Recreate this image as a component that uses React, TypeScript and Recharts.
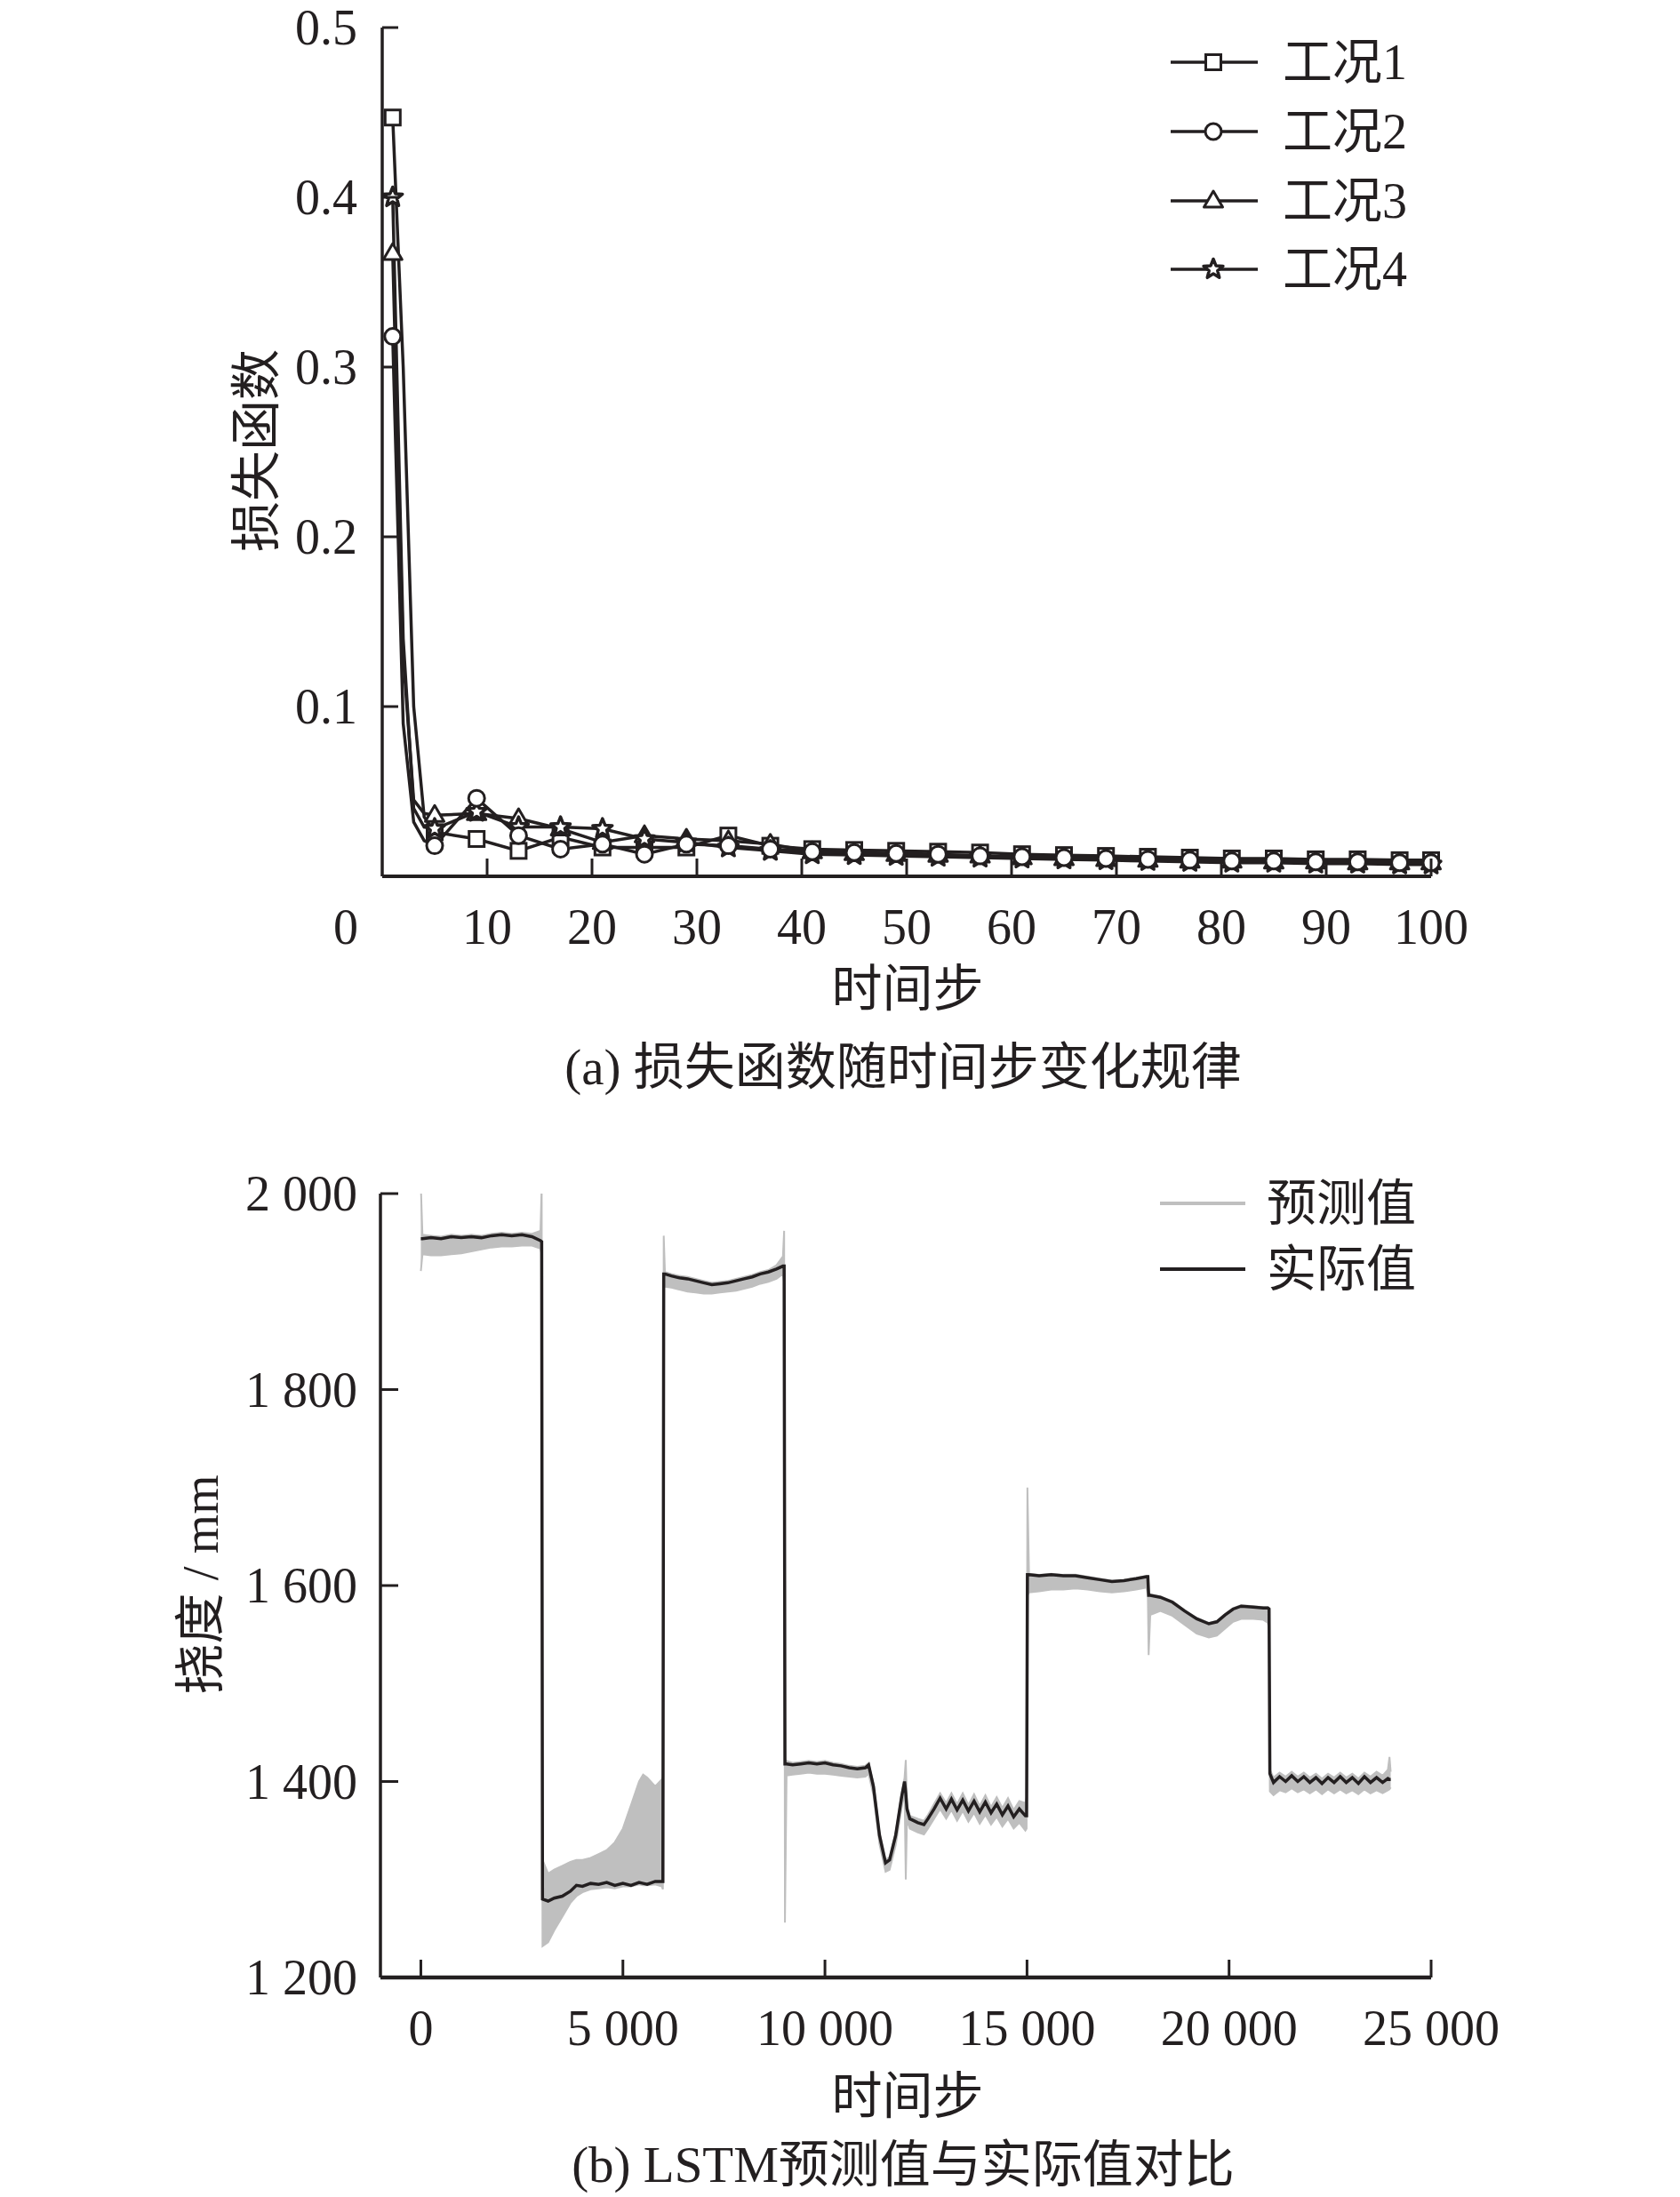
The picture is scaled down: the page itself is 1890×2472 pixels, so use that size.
import React from 'react';
import { LineChart, Line, XAxis, YAxis, ComposedChart, Area } from 'recharts';

const INK = '#231f20';
const GREY = '#bfbfbf';
const SERIF = '"Liberation Serif", "Noto Sans CJK SC", serif';

// ---- (a) loss vs. time step ----
const STEPS_A = [1, 2, 3, 4, 5, 9, 13, 17, 21, 25, 29, 33, 37, 41, 45, 49, 53, 57, 61, 65, 69, 73, 77, 81, 85, 89, 93, 97, 100];
const CASE_1 = [0.447, 0.3, 0.1, 0.035, 0.026, 0.022, 0.015, 0.023, 0.017, 0.017, 0.017, 0.024, 0.018, 0.016, 0.0155, 0.015, 0.0145, 0.014, 0.013, 0.0125, 0.012, 0.0115, 0.011, 0.0105, 0.0105, 0.01, 0.01, 0.0095, 0.0095];
const CASE_2 = [0.318, 0.09, 0.032, 0.021, 0.018, 0.046, 0.024, 0.016, 0.019, 0.013, 0.019, 0.018, 0.016, 0.0145, 0.014, 0.0135, 0.013, 0.012, 0.0115, 0.011, 0.0105, 0.01, 0.0095, 0.009, 0.009, 0.0085, 0.0085, 0.008, 0.008];
const CASE_3 = [0.367, 0.13, 0.045, 0.037, 0.036, 0.037, 0.034, 0.028, 0.02, 0.024, 0.022, 0.021, 0.019, 0.0145, 0.0135, 0.013, 0.0125, 0.012, 0.011, 0.0105, 0.01, 0.0095, 0.009, 0.009, 0.0085, 0.0085, 0.008, 0.008, 0.008];
const CASE_4 = [0.4, 0.14, 0.04, 0.029, 0.028, 0.038, 0.029, 0.029, 0.028, 0.022, 0.02, 0.017, 0.015, 0.013, 0.0125, 0.012, 0.0115, 0.011, 0.0105, 0.01, 0.0095, 0.009, 0.0085, 0.008, 0.008, 0.0075, 0.0075, 0.007, 0.007];
const CASE_NAMES = ['工况1', '工况2', '工况3', '工况4'];
const CASE_MARKERS = ['square', 'circle', 'triangle', 'star'];
const X_TICKS_A = [0, 10, 20, 30, 40, 50, 60, 70, 80, 90, 100];
const Y_TICKS_A = [0.1, 0.2, 0.3, 0.4, 0.5];

// ---- (b) LSTM prediction vs. actual ----
const STEPS_B = [
  0, 40, 250, 500, 750, 1000, 1250, 1500, 1750, 2000, 2250, 2500, 2750, 2960, 2990,
  3010, 3150, 3300, 3500, 3700, 3850, 4000, 4200, 4400, 4600, 4800, 5000, 5200, 5400, 5500, 5600, 5800, 5960, 5990,
  6010, 6040, 6200, 6400, 6600, 6800, 7000, 7200, 7400, 7600, 7800, 8000, 8200, 8400, 8600, 8800, 8960, 8990,
  9010, 9050, 9200, 9400, 9600, 9800, 10000, 10200, 10400, 10600, 10800, 11000, 11080, 11200, 11350, 11500, 11600, 11750, 11900, 11970,
  12000, 12030, 12100, 12300, 12450, 12550, 12700, 12850, 13000, 13130, 13270, 13410, 13550, 13690, 13830, 13970, 14110, 14250, 14390, 14530,
  14670, 14810, 14960, 14990,
  15010, 15050, 15300, 15600, 15900, 16200, 16500, 16800, 17100, 17400, 17700, 17960, 17990,
  18010, 18050, 18300, 18600, 18900, 19200, 19500, 19700, 19900, 20100, 20300, 20600, 20850, 20960, 20990,
  21010, 21100, 21250, 21400, 21550, 21700, 21850, 22000, 22150, 22300, 22450, 22600, 22750, 22900, 23050, 23200, 23350, 23500, 23650, 23800,
  23930, 23970, 24000,
];
const ACTUAL = [
  1954, 1954, 1955, 1954, 1956, 1955, 1956, 1955, 1957, 1958, 1957, 1958, 1956, 1952, 1951,
  1280, 1278, 1281, 1283, 1288, 1294, 1293, 1296, 1295, 1297, 1294, 1296, 1294, 1297, 1296, 1295, 1298, 1298, 1298,
  1918, 1918, 1916, 1914, 1913, 1911, 1909, 1907, 1908, 1909, 1911, 1913, 1915, 1918, 1920, 1923, 1926, 1926,
  1418, 1418, 1417, 1418, 1419, 1418, 1419, 1417, 1416, 1414, 1413, 1414, 1417, 1395, 1345, 1317, 1320, 1345, 1385, 1400,
  1388, 1372, 1362, 1358, 1356, 1362, 1372, 1383, 1372, 1382, 1371, 1381, 1370, 1380, 1369, 1379, 1368, 1377, 1366, 1375,
  1364, 1372, 1365, 1365,
  1611, 1611, 1610, 1611, 1610, 1610, 1608, 1606, 1604, 1605, 1607, 1609, 1609,
  1590, 1590, 1588, 1583, 1574, 1566, 1561, 1563, 1570, 1576, 1579, 1578, 1577, 1577, 1576,
  1408, 1399, 1405, 1400, 1406, 1400, 1405, 1399, 1404, 1398, 1404, 1399, 1405, 1399, 1404, 1398, 1405, 1399, 1404, 1399,
  1403, 1402, 1402,
];
const PRED_LOW = [
  1921, 1938, 1937, 1937, 1938, 1939, 1941, 1943, 1945, 1946, 1946, 1947, 1947, 1944, 1938,
  1232, 1236, 1248, 1262, 1276, 1283, 1287, 1290, 1291, 1292, 1291, 1293, 1293, 1295, 1294, 1294, 1295, 1293, 1290,
  1905, 1905, 1904, 1902, 1900, 1899, 1898, 1898, 1899, 1900, 1901, 1903, 1905, 1908, 1910, 1913, 1918, 1910,
  1256, 1406, 1407, 1408, 1409, 1408, 1408, 1407, 1406, 1405, 1404, 1405, 1408, 1386, 1336, 1308, 1310, 1335, 1374, 1390,
  1300, 1362, 1352, 1348, 1346, 1352, 1362, 1372, 1362, 1371, 1360, 1370, 1359, 1368, 1357, 1366, 1356, 1364, 1354, 1362,
  1352, 1358, 1350, 1352,
  1590, 1593, 1594, 1596, 1596, 1597, 1596, 1594, 1593, 1594, 1596, 1598, 1590,
  1529, 1570, 1574, 1569, 1560, 1551, 1547, 1549, 1556, 1563, 1566, 1566, 1565, 1562, 1555,
  1390, 1386, 1391, 1389, 1393, 1389, 1392, 1388, 1392, 1387, 1392, 1388, 1392, 1388, 1391, 1387, 1392, 1388, 1391, 1388,
  1391, 1392, 1394,
];
const PRED_HIGH = [
  2007, 1958, 1957, 1956, 1958, 1957, 1958, 1957, 1959, 1960, 1959, 1960, 1959, 1962, 2008,
  1320, 1306, 1310, 1314, 1318, 1320, 1320, 1322, 1326, 1330, 1338, 1352, 1376, 1400, 1407, 1404, 1395, 1402, 1405,
  1957, 1920, 1918, 1916, 1915, 1913, 1911, 1909, 1910, 1911, 1913, 1915, 1917, 1920, 1922, 1927, 1936, 1962,
  1420, 1421, 1419, 1420, 1421, 1420, 1421, 1419, 1418, 1416, 1415, 1416, 1419, 1398, 1348, 1320, 1323, 1348, 1388, 1404,
  1422, 1376, 1365, 1362, 1360, 1366, 1377, 1388, 1378, 1388, 1377, 1388, 1376, 1387, 1375, 1386, 1374, 1384, 1373, 1383,
  1371, 1380, 1378, 1384,
  1700, 1612, 1611, 1612, 1611, 1611, 1609, 1607, 1605, 1606, 1608, 1610, 1610,
  1592, 1591, 1589, 1584, 1575, 1567, 1562, 1564, 1571, 1577, 1580, 1579, 1578, 1578, 1577,
  1412, 1404, 1409, 1405, 1410, 1405, 1409, 1404, 1408, 1403, 1408, 1404, 1409, 1404, 1408, 1403, 1409, 1405, 1410, 1406,
  1412, 1425, 1410,
];
const X_TICKS_B = [0, 5000, 10000, 15000, 20000, 25000];
const X_LABELS_B = ['0', '5 000', '10 000', '15 000', '20 000', '25 000'];
const Y_TICKS_B = [1200, 1400, 1600, 1800, 2000];
const Y_LABELS_B = ['1 200', '1 400', '1 600', '1 800', '2 000'];

const lossRows = STEPS_A.map((step, i) => ({ step, c1: CASE_1[i], c2: CASE_2[i], c3: CASE_3[i], c4: CASE_4[i] }));
const deflRows = STEPS_B.map((t, i) => ({ t, actual: ACTUAL[i], band: [PRED_LOW[i], PRED_HIGH[i]] }));

// plot frame (chart-local pixels)
const CHART_H = 1100;
const A_MARGIN = { top: 31, right: 280, bottom: 34, left: 330 };
const B_MARGIN = { top: 93, right: 280, bottom: 45, left: 328 };
const Y_AXIS_W = 100;
const X_AXIS_H = 80;
const A_LEFT = A_MARGIN.left + Y_AXIS_W;
const A_BOTTOM = CHART_H - A_MARGIN.bottom - X_AXIS_H;
const B_LEFT = B_MARGIN.left + Y_AXIS_W;
const B_BOTTOM = CHART_H - B_MARGIN.bottom - X_AXIS_H;

function Marker({ kind, cx, cy }: { kind: string; cx: number; cy: number }) {
  const style = { fill: '#fff', stroke: INK, strokeWidth: 3 };
  if (kind === 'square') return <rect x={cx - 8.5} y={cy - 8.5} width={17} height={17} {...style} />;
  if (kind === 'circle') return <circle cx={cx} cy={cy} r={9} {...style} />;
  if (kind === 'triangle') {
    return <polygon points={`${cx},${cy - 11} ${cx + 10.5},${cy + 7} ${cx - 10.5},${cy + 7}`} {...style} strokeLinejoin="round" />;
  }
  const pts: string[] = [];
  for (let k = 0; k < 10; k++) {
    const r = k % 2 === 0 ? 11.5 : 5;
    const a = -Math.PI / 2 + (k * Math.PI) / 5;
    pts.push(`${cx + r * Math.cos(a)},${cy + r * Math.sin(a)}`);
  }
  return <polygon points={pts.join(' ')} fill="#fff" stroke={INK} strokeWidth={3.5} strokeLinejoin="round" />;
}

const makeDot = (kind: string) => (props: any) => {
  const { cx, cy, payload, index } = props;
  const s = payload.step;
  if (cx == null || !((s - 1) % 4 === 0 || s === 100)) return <g key={`${kind}-${index}`} />;
  return (
    <g key={`${kind}-${index}`}>
      <Marker kind={kind} cx={cx} cy={cy} />
    </g>
  );
};

const textStyle = { fontSize: 56, fill: INK, fontFamily: SERIF };

const XTickA = (props: any) => {
  const { x, payload } = props;
  const v = payload.value;
  const y = A_BOTTOM;
  return (
    <g>
      {v !== 0 && <line x1={x} x2={x} y1={y} y2={y - 20} stroke={INK} strokeWidth={3} />}
      <text x={v === 0 ? x - 41 : x} y={y + 57} textAnchor="middle" dominantBaseline="central" {...textStyle}>
        {v}
      </text>
    </g>
  );
};

const YTickA = (props: any) => {
  const { y, payload } = props;
  const x = A_LEFT;
  return (
    <g>
      <line x1={x} x2={x + 18} y1={y} y2={y} stroke={INK} strokeWidth={3} />
      <text x={x - 28} y={y} textAnchor="end" dominantBaseline="central" {...textStyle}>
        {payload.value.toFixed(1)}
      </text>
    </g>
  );
};

const XTickB = (props: any) => {
  const { x, payload, index } = props;
  const y = B_BOTTOM;
  return (
    <g>
      <line x1={x} x2={x} y1={y} y2={y - 20} stroke={INK} strokeWidth={3} />
      <text x={x} y={y + 57} textAnchor="middle" dominantBaseline="central" {...textStyle}>
        {X_LABELS_B[index] ?? payload.value}
      </text>
    </g>
  );
};

const YTickB = (props: any) => {
  const { y, payload, index } = props;
  const x = B_LEFT;
  return (
    <g>
      {payload.value !== 1200 && <line x1={x} x2={x + 20} y1={y} y2={y} stroke={INK} strokeWidth={3} />}
      <text x={x - 26} y={y} textAnchor="end" dominantBaseline="central" {...textStyle}>
        {Y_LABELS_B[index] ?? payload.value}
      </text>
    </g>
  );
};

function Title({ x, y, text, rotate = false }: { x: number; y: number; text: string; rotate?: boolean }) {
  return (
    <div
      style={{
        position: 'absolute',
        left: x,
        top: y,
        transform: `translate(-50%, -50%)${rotate ? ' rotate(-90deg)' : ''}`,
        whiteSpace: 'nowrap',
        fontSize: 57,
        lineHeight: 1,
        color: INK,
        fontFamily: SERIF,
      }}
    >
      {text}
    </div>
  );
}

const LEGEND_A_Y = [70, 148, 226, 303];

export default function App() {
  return (
    <div style={{ position: 'absolute', left: 0, top: 0, width: 1890, height: 2472, background: '#fff', fontFamily: SERIF }}>
      <div style={{ position: 'absolute', left: 0, top: 0 }}>
        <LineChart width={1890} height={CHART_H} data={lossRows} margin={A_MARGIN}>
          <XAxis
            dataKey="step"
            type="number"
            domain={[0, 100]}
            ticks={X_TICKS_A}
            height={X_AXIS_H}
            tickSize={0}
            tickMargin={0}
            tickLine={false}
            axisLine={{ stroke: INK, strokeWidth: 4 }}
            tick={XTickA}
            interval={0}
          />
          <YAxis
            type="number"
            domain={[0, 0.5]}
            ticks={Y_TICKS_A}
            width={Y_AXIS_W}
            tickSize={0}
            tickMargin={0}
            tickLine={false}
            axisLine={{ stroke: INK, strokeWidth: 3.5 }}
            tick={YTickA}
            interval={0}
          />
          <Line type="linear" dataKey="c1" stroke={INK} strokeWidth={3.5} dot={makeDot('square')} activeDot={false} isAnimationActive={false} />
          <Line type="linear" dataKey="c3" stroke={INK} strokeWidth={3.5} dot={makeDot('triangle')} activeDot={false} isAnimationActive={false} />
          <Line type="linear" dataKey="c4" stroke={INK} strokeWidth={3.5} dot={makeDot('star')} activeDot={false} isAnimationActive={false} />
          <Line type="linear" dataKey="c2" stroke={INK} strokeWidth={3.5} dot={makeDot('circle')} activeDot={false} isAnimationActive={false} />
        </LineChart>
      </div>

      <div style={{ position: 'absolute', left: 0, top: 1250 }}>
        <ComposedChart width={1890} height={CHART_H} data={deflRows} margin={B_MARGIN}>
          <XAxis
            dataKey="t"
            type="number"
            domain={[-1000, 25000]}
            ticks={X_TICKS_B}
            height={X_AXIS_H}
            tickSize={0}
            tickMargin={0}
            tickLine={false}
            axisLine={{ stroke: INK, strokeWidth: 4.5 }}
            tick={XTickB}
            interval={0}
          />
          <YAxis
            type="number"
            domain={[1200, 2000]}
            allowDataOverflow
            ticks={Y_TICKS_B}
            width={Y_AXIS_W}
            tickSize={0}
            tickMargin={0}
            tickLine={false}
            axisLine={{ stroke: INK, strokeWidth: 3.5 }}
            tick={YTickB}
            interval={0}
          />
          <Area
            type="linear"
            dataKey="band"
            stroke={GREY}
            strokeWidth={2}
            fill={GREY}
            fillOpacity={1}
            dot={false}
            activeDot={false}
            isAnimationActive={false}
          />
          <Line type="linear" dataKey="actual" stroke={INK} strokeWidth={3.5} dot={false} activeDot={false} isAnimationActive={false} />
        </ComposedChart>
      </div>

      <svg width={1890} height={2472} style={{ position: 'absolute', left: 0, top: 0, pointerEvents: 'none' }}>
        {CASE_NAMES.map((name, i) => (
          <g key={name}>
            <line x1={1317} x2={1415} y1={LEGEND_A_Y[i]} y2={LEGEND_A_Y[i]} stroke={INK} strokeWidth={3.5} />
            <Marker kind={CASE_MARKERS[i]} cx={1365} cy={LEGEND_A_Y[i]} />
            <text x={1443} y={LEGEND_A_Y[i]} dominantBaseline="central" {...textStyle}>
              {name}
            </text>
          </g>
        ))}
        <line x1={1305} x2={1401} y1={1354} y2={1354} stroke={GREY} strokeWidth={4} />
        <text x={1425} y={1354} dominantBaseline="central" {...textStyle}>预测值</text>
        <line x1={1305} x2={1401} y1={1428} y2={1428} stroke={INK} strokeWidth={4} />
        <text x={1425} y={1428} dominantBaseline="central" {...textStyle}>实际值</text>
      </svg>

      <Title x={288} y={507} text="损失函数" rotate />
      <Title x={1021} y={1112} text="时间步" />
      <Title x={1016} y={1200} text="(a) 损失函数随时间步变化规律" />
      <Title x={225} y={1783} text="挠度 / mm" rotate />
      <Title x={1021} y={2358} text="时间步" />
      <Title x={1016} y={2435} text="(b) LSTM预测值与实际值对比" />
    </div>
  );
}
